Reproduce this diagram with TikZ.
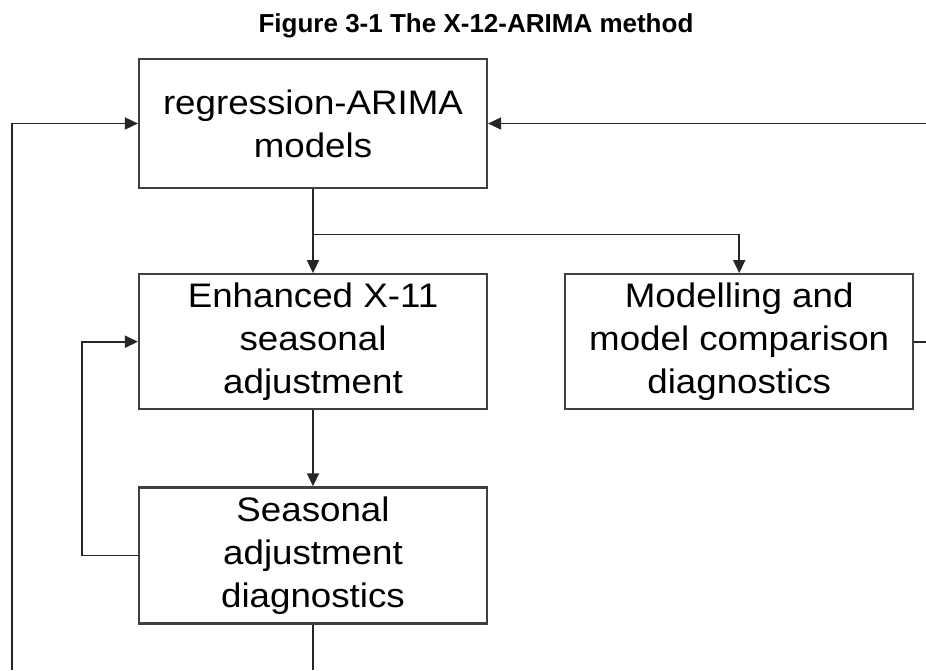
\documentclass[tikz,border=0pt]{standalone}
\usepackage{fontspec}
\setmainfont{Liberation Sans}
\newfontfamily\boxfont[FakeStretch=1.08]{Liberation Sans}
\usepackage{tikz}
\usetikzlibrary{arrows.meta, positioning, calc}
\tikzset{
  stage/.style={
    rectangle, draw=black!75, line width=2.2pt,
    minimum width=348pt, align=center,
    font=\boxfont\fontsize{34}{43}\selectfont
  },
  caption/.style={font=\bfseries\fontsize{26}{30}\selectfont},
  arrow/.style={line width=1.8pt, color=black!85, -{Triangle[length=13pt,width=12pt]}},
  link/.style={line width=1.8pt, color=black!85},
}

\begin{document}
\begin{tikzpicture}[x=1pt, y=-1pt]
  \useasboundingbox (0,0) rectangle (926,670);
  \node (title)   [caption] at (476,26) {Figure 3-1 The X-12-ARIMA method};
  \node (regmod)  [stage, minimum height=129pt] at (313,123.5) {regression-ARIMA\\models};
  \node (xeleven) [stage, minimum height=135pt, below=84pt of regmod] {Enhanced X-11\\seasonal\\adjustment};
  \node (modiag)  [stage, minimum height=135pt, right=76pt of xeleven] {Modelling and\\model comparison\\diagnostics};
  \node (sadiag)  [stage, minimum height=136pt, below=76pt of xeleven] {Seasonal\\adjustment\\diagnostics};

  \coordinate (fork) at ($(regmod.south)!0.54!(xeleven.north)$);
  \coordinate (lbot) at (12,670);
  \coordinate (redge) at (926,0);

  \draw [arrow] (regmod)  -- (xeleven);
  \draw [arrow] (fork)    -| (modiag);
  \draw [arrow] (xeleven) -- (sadiag);
  \draw [arrow] (sadiag.west) -- ++(-56,0) |- (xeleven.west);
  \draw [arrow] (lbot)    |- (regmod.west);
  \draw [arrow] (regmod.east -| redge) -- (regmod.east);
  \draw [link]  (modiag.east) -- (modiag.east -| redge);
  \draw [link]  (sadiag.south) -- (sadiag.south |- lbot);
\end{tikzpicture}
\end{document}
